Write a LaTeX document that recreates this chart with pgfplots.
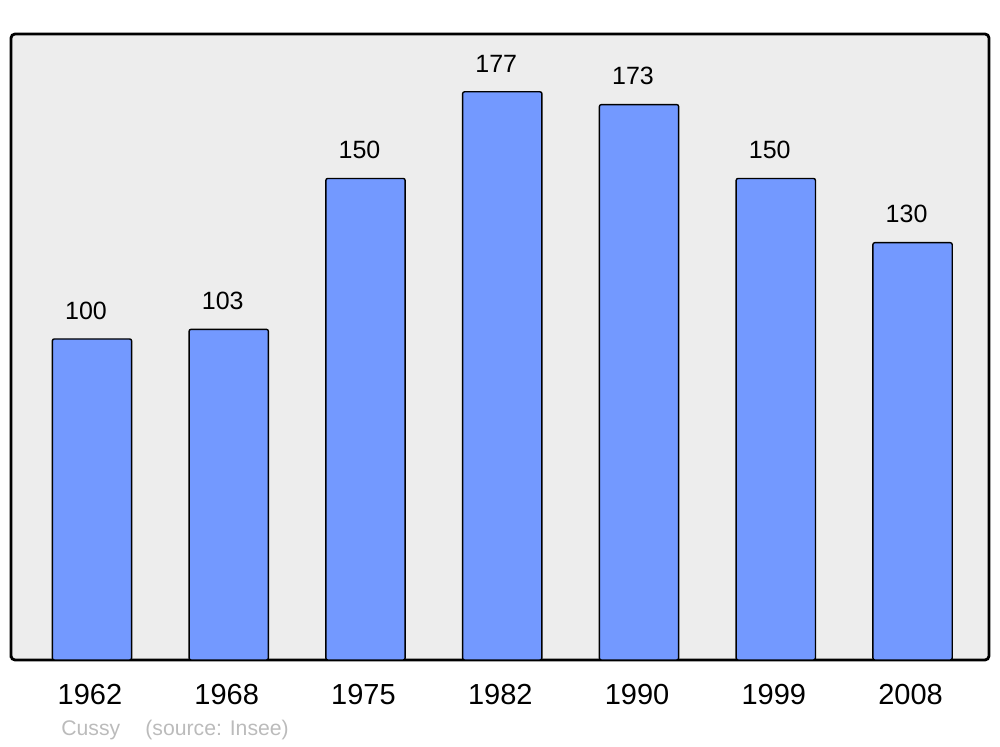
\documentclass[border=0pt]{standalone}
\usepackage{pgfplots}
\pgfplotsset{compat=1.18}
\usepackage{fontspec}
\setmainfont{Liberation Sans}
\definecolor{bgfill}{HTML}{EDEDED}
\definecolor{barfill}{HTML}{7399FF}
\definecolor{srcgray}{HTML}{BBBBBB}
\begin{document}
\begin{tikzpicture}
% 1 px of the reference = 0.5pt
\path[use as bounding box] (-5.5pt,-43.5pt) rectangle (494.5pt,330pt);
\begin{axis}[
    scale only axis,
    width=489pt, height=313pt,
    xmin=-0.592, xmax=6.559,
    ymin=0, ymax=195,
    axis background/.style={fill=bgfill},
    axis line style={line width=1.4pt, rounded corners=2pt},
    xtick={0,1,2,3,4,5,6},
    xticklabels={1962,1968,1975,1982,1990,1999,2008},
    ytick=\empty,
    major tick length=0pt,
    xticklabel style={font=\fontsize{14.5}{16}\selectfont, anchor=north, inner sep=0pt, yshift=-12pt, xshift=-1pt},
    /pgf/number format/assume math mode=true,
    ybar,
    bar width=0.58,
    nodes near coords,
    every node near coord/.append style={font=\fontsize{12.5}{14}\selectfont, anchor=south, inner sep=0pt, yshift=9.5pt, xshift=-3pt, black},
    clip=false,
]
\addplot[fill=barfill, draw=black, line width=0.7pt, rounded corners=1pt] coordinates {
    (0,100) (1,103) (2,150) (3,177) (4,173) (5,150) (6,130)
};
\node[anchor=west, inner sep=0pt, text=srcgray, font=\fontsize{10.6}{12}\selectfont] at ([xshift=25pt, yshift=-35pt]rel axis cs:0,0) {Cussy};
\node[anchor=west, inner sep=0pt, text=srcgray, font=\fontsize{10.6}{12}\selectfont] at ([xshift=67pt, yshift=-35pt]rel axis cs:0,0) {(source: Insee)};
\end{axis}
\end{tikzpicture}
\end{document}
